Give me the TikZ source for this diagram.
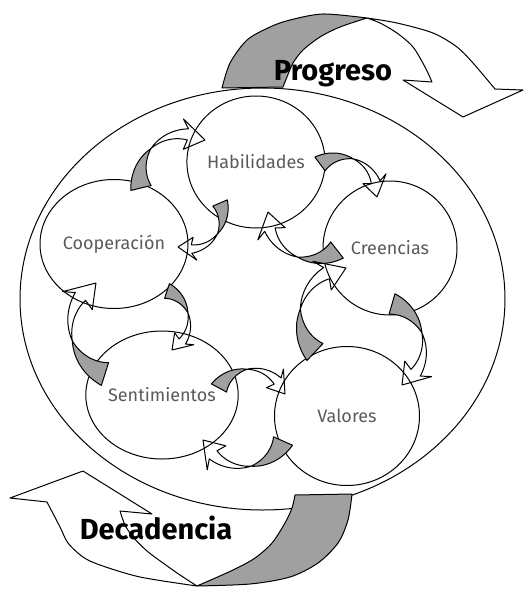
\documentclass[tikz,border=0pt]{standalone}
\usepackage{fontspec}
\setmainfont{Fira Sans}
\usetikzlibrary{shapes.geometric}
\definecolor{shade}{HTML}{A0A0A0}
\definecolor{labelgray}{HTML}{5A5A5A}
\tikzset{
  stage/.style={ellipse, draw, line width=1pt, inner sep=0pt, text=labelgray, font=\fontsize{18}{20}\selectfont},
  backside/.style={fill=shade, draw=black, line width=1pt, line join=round},
  frontside/.style={draw=black, line width=1pt, line join=round},
  bigword/.style={font=\fontsize{29}{32}\selectfont\bfseries, anchor=base}
}
% twisted arrow from base (#1,#2) to tip (#3,#4), in pixels
\newcommand{\twistarrow}[4]{%
  \pgfmathsetmacro\tang{atan2(#2-#4,#3-#1)}%
  \pgfmathsetmacro\tlen{veclen(#3-#1,#4-#2)}%
  \begin{scope}[shift={(#1,#2)}, rotate=\tang, scale=\tlen, yscale=-1]
    \begin{scope}[shift={(0.5,-0.214)}]
      \filldraw[backside] plot[domain=156.8:101] ({\x}:{0.544+0.13*(\x-101)/55.8})
        -- plot[domain=101:156.8] ({\x}:{0.544-0.13*(\x-101)/55.8}) -- cycle;
      \draw[frontside] plot[domain=101:47] ({\x}:{0.544+0.07*(101-\x)/54})
        -- (53:0.735) -- (23.2:0.544) -- (53:0.355)
        -- plot[domain=47:101] ({\x}:{0.544-0.07*(101-\x)/54});
    \end{scope}
  \end{scope}}
\begin{document}
\begin{tikzpicture}[x=1pt, y=-1pt]
    \useasboundingbox (0,0) rectangle (523,589);
    % outer ring
    \draw[line width=1pt] (262.5,299) ellipse [x radius=242.5, y radius=211];
    % the five stages
    \node[stage, minimum width=132pt, minimum height=132pt] (hab) at (256,162) {Habilidades};
    \node[stage, minimum width=134pt, minimum height=134pt] (cre) at (390,248) {Creencias};
    \node[stage, minimum width=145pt, minimum height=139pt] (val) at (347,416) {Valores};
    \node[stage, minimum width=146pt, minimum height=128pt] (sen) at (162,395) {Sentimientos};
    \node[stage, minimum width=148pt, minimum height=129pt] (coop) at (114,244) {Cooperación};
    % big arrow up
    \filldraw[backside] plot[smooth] coordinates {(222,88) (230,63) (247,40) (270,27) (290,20) (323,14) (367,18)}
      -- plot[smooth] coordinates {(367,18) (340,27) (320,37) (303,50) (293,63) (287,77) (283,87)} -- cycle;
    \draw[frontside] plot[smooth] coordinates {(367,18) (397,23) (433,33) (457,47) (473,63) (495,89)}
      -- (523,90) -- (463,117) -- (403,80) -- (432,82)
      -- plot[smooth] coordinates {(432,82) (425,67) (413,47) (397,33) (380,23) (367,18)};
    % big arrow down
    \filldraw[backside] plot[smooth] coordinates {(295,495) (292,508) (285,523) (272,543) (255,558) (233,570) (197,586)}
      -- plot[smooth] coordinates {(197,586) (250,584) (290,577) (318,563) (338,543) (348,520) (352,494)} -- cycle;
    \draw[frontside] plot[smooth] coordinates {(197,586) (180,575) (163,563) (147,551) (133,537) (125,525) (120,511)}
      -- (152,514) -- (83,471) -- (10,498) -- (47,502)
      -- plot[smooth] coordinates {(47,502) (60,527) (68,543) (83,557) (100,565) (140,577) (197,586)};
    % small arrows between the stages
    \twistarrow{320}{164}{377}{197}
    \twistarrow{337}{250}{268}{212}
    \twistarrow{392}{304}{402}{385}
    \twistarrow{315}{352}{346}{268}
    \twistarrow{283}{441}{203}{440}
    \twistarrow{219}{388}{285}{394}
    \twistarrow{105}{374}{96}{283}
    \twistarrow{167}{291}{172}{350}
    \twistarrow{141}{188}{205}{140}
    \twistarrow{220}{203}{178}{247}
    % labels
    \node[bigword] (prog) at (333,80) {Progreso};
    \node[bigword] (deca) at (156,539) {Decadencia};
\end{tikzpicture}
\end{document}
